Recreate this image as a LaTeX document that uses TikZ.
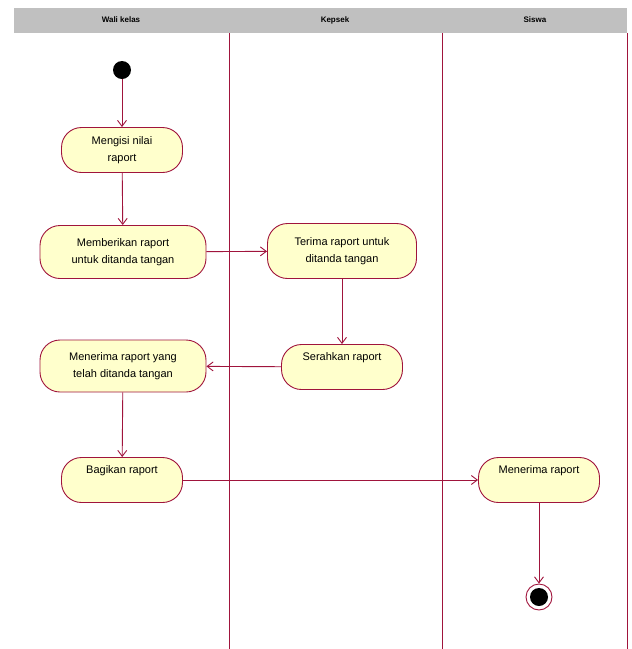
\documentclass[tikz,border=0pt]{standalone}
\usepackage{fontspec}
\setmainfont{Liberation Sans}
\usetikzlibrary{arrows.meta, positioning}
\definecolor{umlline}{RGB}{160,20,60}
\definecolor{umlfill}{RGB}{255,255,204}
\definecolor{headgray}{RGB}{192,192,192}
\tikzset{
  act/.style={draw=umlline, fill=umlfill, rounded corners=20pt, line width=0.9pt,
    minimum width=121pt, minimum height=45pt, align=center, inner sep=2pt,
    font=\fontsize{11}{17}\selectfont},
  lanehead/.style={font=\bfseries\fontsize{8}{9}\selectfont, text height=6pt, text depth=1pt},
  flow/.style={draw=umlline, line width=0.9pt, -{Straight Barb[length=6pt,width=9pt]}},
  lane/.style={draw=umlline, line width=0.8pt},
}
\begin{document}
\begin{tikzpicture}[x=1pt,y=-1pt]
\useasboundingbox (0,0) rectangle (632,649);
% Draw header band and lanes
\fill[headgray] (14,8) rectangle (627,33);
\node[lanehead] (h1) at (121,20) {Wali kelas};
\node[lanehead] (h2) at (335,20) {Kepsek};
\node[lanehead] (h3) at (535,20) {Siswa};
\draw[lane] (229,33) -- (229,649);
\draw[lane] (442,33) -- (442,649);
\draw[lane] (627,33) -- (627,649);
% Start and end states
\fill (122,70) circle [radius=9pt];
\coordinate (start) at (122,70);
\node[circle, draw=umlline, line width=0.9pt, minimum size=26pt] (stop) at (539,597) {};
\fill (stop) circle [radius=9pt];
% Activities
\node[act] (isi) at (122,150) {Mengisi nilai\\raport};
\node[act, minimum width=166pt, minimum height=53pt] (beri) at (123,252) {Memberikan raport\\untuk ditanda tangan};
\node[act, minimum width=149pt, minimum height=55pt] (terima) at (342,251) {Terima raport untuk\\ditanda tangan};
\node[act, text depth=20pt] (serah) at (342,367) {Serahkan raport};
\node[act, minimum width=166pt, minimum height=52pt] (balik) at (123,366) {Menerima raport yang\\telah ditanda tangan};
\node[act, text depth=20pt] (bagi) at (122,480) {Bagikan raport};
\node[act, text depth=20pt] (dapat) at (539,480) {Menerima raport};
% Flows
\draw[flow] (start) ++(0,9) -- (isi);
\draw[flow] (isi) -- (beri);
\draw[flow] (beri) -- (terima);
\draw[flow] (terima) -- (serah);
\draw[flow] (serah) -- (balik);
\draw[flow] (balik) -- (bagi);
\draw[flow] (bagi) -- (dapat);
\draw[flow] (dapat) -- (stop);
\end{tikzpicture}
\end{document}
